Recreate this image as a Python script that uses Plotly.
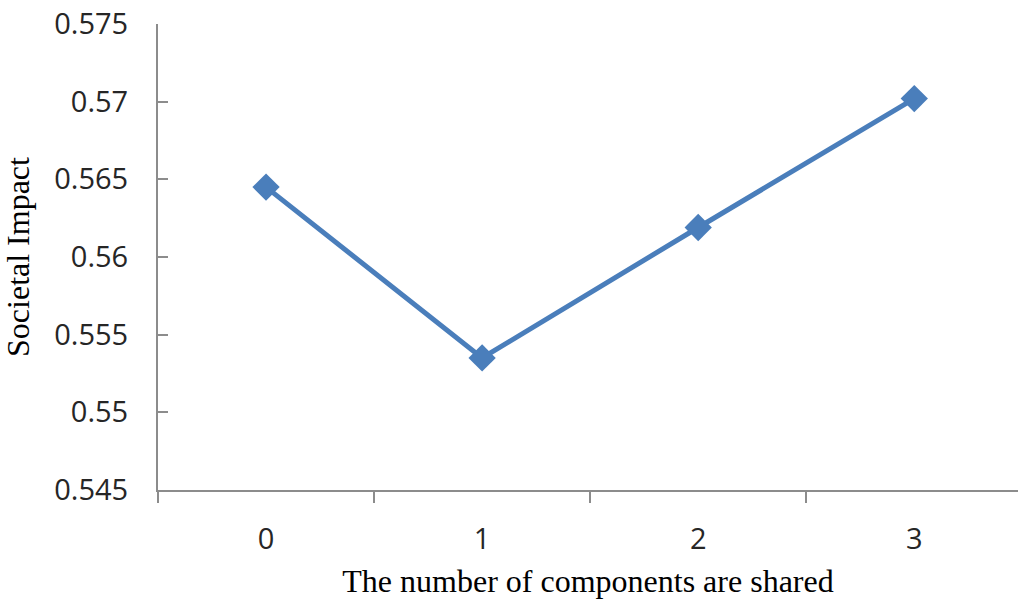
import plotly.graph_objects as go

# Number of shared components and the resulting societal impact
components = [0, 1, 2, 3]
impact = [0.5645, 0.5535, 0.5619, 0.5702]
y_ticks = [0.545, 0.55, 0.555, 0.56, 0.565, 0.57, 0.575]
y_tick_text = ["0.545", "0.55", "0.555", "0.56", "0.565", "0.57", "0.575"]

line_blue = "#4A7EBB"
axis_grey = "#8C8C8C"

fig = go.Figure(
    go.Scatter(
        x=components,
        y=impact,
        mode="lines+markers",
        line=dict(color=line_blue, width=5),
        marker=dict(symbol="diamond", size=21, color=line_blue),
        showlegend=False,
    )
)

fig.update_layout(
    width=1018,
    height=599,
    margin=dict(l=158, r=0, t=24, b=109),
    paper_bgcolor="white",
    plot_bgcolor="white",
    font=dict(family="Open Sans", color="#262626"),
)

fig.update_xaxes(
    range=[-0.5, 3.48],
    tickvals=components,
    ticktext=[str(c) for c in components],
    ticks="",
    ticklabelstandoff=22,
    showgrid=False,
    zeroline=False,
    showline=True,
    linecolor=axis_grey,
    linewidth=2,
    tickfont=dict(family="Open Sans", size=29, color="#262626"),
    minor=dict(ticks="outside", tick0=-0.5, dtick=1, ticklen=11,
               tickcolor=axis_grey, tickwidth=2, showgrid=False),
    title=dict(text="The number of components are shared",
               font=dict(family="Liberation Serif", size=32, color="#000000"),
               standoff=20),
)

fig.update_yaxes(
    range=[0.545, 0.575],
    tickvals=y_ticks,
    ticktext=y_tick_text,
    ticks="inside",
    ticklen=10,
    tickcolor=axis_grey,
    tickwidth=2,
    ticklabelstandoff=22,
    showgrid=False,
    zeroline=False,
    showline=True,
    linecolor=axis_grey,
    linewidth=2,
    tickfont=dict(family="Open Sans", size=29, color="#262626"),
    title=dict(text="Societal Impact",
               font=dict(family="Liberation Serif", size=32, color="#000000"),
               standoff=18),
)

fig.write_html("out.html")
